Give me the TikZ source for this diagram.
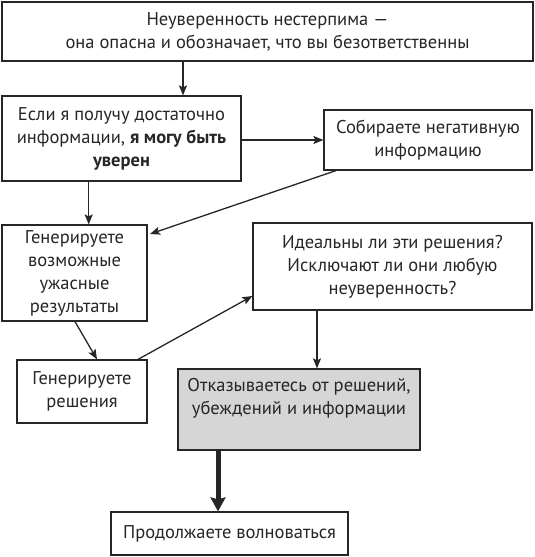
\documentclass[tikz,border=0pt]{standalone}
\usepackage{fontspec}
\setmainfont{PT Sans}
\usetikzlibrary{arrows.meta}
\tikzset{
  box/.style={draw=black!85, line width=1.2pt, inner sep=2pt, align=center, font=\fontsize{18.5pt}{23pt}\selectfont, text=black!85},
  arr/.style={draw=black!85, line width=1.3pt, -{Stealth[length=10pt,width=8pt,inset=2pt]}},
  thickarr/.style={draw=black!85, line width=5pt, -{Stealth[length=14pt,width=15pt,inset=2pt]}},
}
\begin{document}
\begin{tikzpicture}[x=1pt,y=1pt]
\useasboundingbox (0,0) rectangle (535,-557);
\node[box, minimum width=531pt, minimum height=59pt] (n1) at (267.5,-31.5)
  {Неуверенность нестерпима —\\ она опасна и обозначает, что вы безответственны};
\node[box, minimum width=239pt, minimum height=85pt] (n2) at (121.5,-138.5)
  {Если я получу достаточно\\ информации, \textbf{я могу быть}\\ \textbf{уверен}};
\node[box, minimum width=208pt, minimum height=60pt] (n3) at (428,-140)
  {Собираете негативную\\ информацию};
\node[box, minimum width=145pt, minimum height=96pt] (n4) at (74.5,-273)
  {Генерируете\\ возможные\\ ужасные\\ результаты};
\node[box, minimum width=279pt, minimum height=87pt] (n5) at (392.5,-266.5)
  {Идеальны ли эти решения?\\ Исключают ли они любую\\ неуверенность?};
\node[box, minimum width=130pt, minimum height=63pt] (n6) at (82,-391.5)
  {Генерируете\\ решения};
\node[box, fill=black!16, minimum width=242pt, minimum height=81pt] (n7) at (299,-409.5)
  {Отказываетесь от решений,\\ убеждений и информации\\[3pt]};
\node[box, minimum width=237pt, minimum height=43pt] (n8) at (229.5,-533.5)
  {Продолжаете волноваться};
% helper coordinates
\coordinate (x183) at (183,0);
\coordinate (x89) at (88.7,0);
\coordinate (x336) at (336,0);
\coordinate (x75) at (75,0);
\coordinate (x97) at (97,0);
\coordinate (x138) at (138,0);
\coordinate (y296) at (0,-296);
\coordinate (x317) at (317,0);
\coordinate (x218) at (218,0);
\coordinate (t34) at (150,-234);
% connectors
\draw[arr] (n1.south -| x183) -- (n2.north -| x183);
\draw[arr] (n2.east |- n3.west) -- (n3.west);
\draw[arr] (n3.south -| x336) -- (t34);
\draw[arr] (n2.south -| x89) -- (n4.north -| x89);
\draw[arr] (n4.south -| x75) -- (n6.north -| x97);
\draw[arr] (n6.north -| x138) -- (n5.west |- y296);
\draw[arr] (n5.south -| x317) -- (n7.north -| x317);
\draw[thickarr] (n7.south -| x218) -- (n8.north -| x218);
\end{tikzpicture}
\end{document}
